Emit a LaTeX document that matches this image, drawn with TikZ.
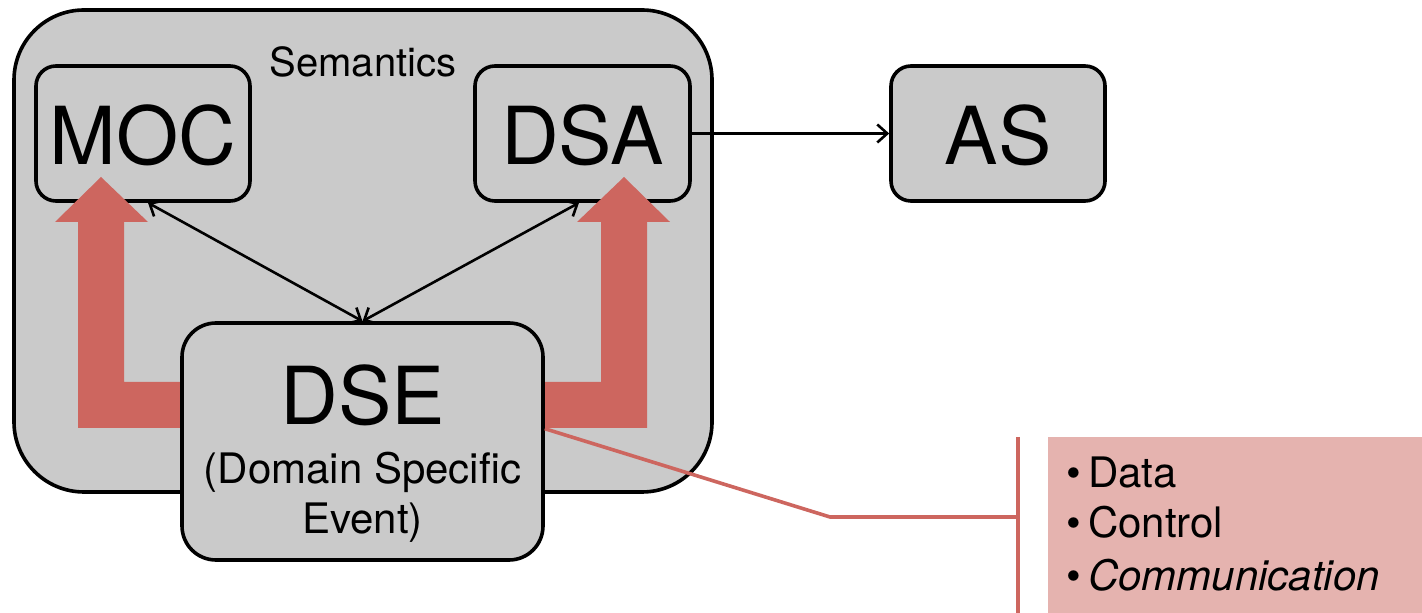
\documentclass[tikz,border=0pt]{standalone}
\usepackage{fontspec}
\setmainfont{TeX Gyre Heros}
\usetikzlibrary{arrows.meta}
\definecolor{boxgray}{HTML}{CACACA}
\definecolor{redarrow}{HTML}{CD665F}
\definecolor{pinkbox}{HTML}{E5B3AF}
\begin{document}
\begin{tikzpicture}[x=0.5pt,y=-0.5pt,
  box/.style={draw=black, line width=1.8pt, fill=boxgray, rounded corners=10pt, inner sep=0pt},
  big/.style={font=\fontsize{40}{44}\selectfont, inner sep=0pt},
  mid/.style={font=\fontsize{21}{25}\selectfont, inner sep=0pt},
  tip/.style={line width=1.3pt},
  dbl/.style={tip, {Straight Barb[length=5pt,width=9pt]}-{Straight Barb[length=5pt,width=9pt]}},
  sgl/.style={tip, -{Straight Barb[length=5pt,width=9pt]}},
  fat/.style={fill=redarrow, draw=none},
  callout/.style={draw=redarrow, line width=1.8pt}]
\useasboundingbox (0,0) rectangle (1422,613);
% outer semantics box
\node[box, rounded corners=35pt, minimum width=349pt, minimum height=241pt] (sem) at (363,251) {};
\node[font=\fontsize{20}{24}\selectfont, inner sep=0pt, anchor=base] (semlbl) at (363,77) {Semantics};
% boxes
\node[box, minimum width=107pt, minimum height=67.5pt] (moc) at (143,133.5) {};
\node[big, anchor=base] (moclbl) at (143,165) {MOC};
\node[box, minimum width=107.5pt, minimum height=67.5pt] (dsa) at (582.5,133.5) {};
\node[big, anchor=base] (dsalbl) at (582.5,165) {DSA};
\node[box, minimum width=107pt, minimum height=67.5pt] (as) at (998,133.5) {};
\node[big, anchor=base] (aslbl) at (998,165) {AS};
% thick red arrows
\fill[fat] (78,428) -- (78,222) -- (55,222) -- (101,177) -- (148,222) -- (124,222) -- (124,382) -- (190,382) -- (190,428) -- cycle;
\fill[fat] (647,428) -- (647,222) -- (670,222) -- (624,177) -- (577,222) -- (601,222) -- (601,382) -- (535,382) -- (535,428) -- cycle;
% DSE box
\node[box, rounded corners=17pt, minimum width=180.5pt, minimum height=118.5pt] (dse) at (362.5,441.5) {};
\node[big, anchor=base] (dselbl) at (362.5,425) {DSE};
\node[mid, anchor=base] (dsel2) at (362.5,484) {(Domain Specific};
\node[mid, anchor=base] (dsel3) at (362.5,534) {Event)};
% connectors
\draw[dbl] ([xshift=2.5pt]moc.south) -- (dse.north);
\draw[dbl] ([xshift=-1.75pt]dsa.south) -- (dse.north);
\draw[sgl] (dsa.east) -- (as.west);
% callout
\node[fill=pinkbox, minimum width=187pt, minimum height=88pt, inner sep=0pt] (list) at (1235,525) {};
\coordinate (bend) at (830,517);
\coordinate (barmid) at (1018,517);
\coordinate (bartop) at (1018,437);
\coordinate (barbot) at (1018,613);
\draw[callout] ([yshift=6.4pt]dse.east) -- (bend) -- (barmid);
\draw[callout] (bartop) -- (barbot);
\node[mid, anchor=base west] (i1) at (1066,488) {\textbullet\,Data};
\node[mid, anchor=base west] (i2) at (1066,538) {\textbullet\,Control};
\node[mid, anchor=base west] (i3) at (1066,590) {\textbullet\,\textit{Communication}};
\end{tikzpicture}
\end{document}
